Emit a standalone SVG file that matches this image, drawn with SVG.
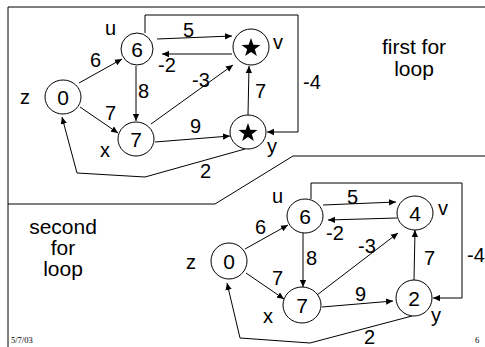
<svg xmlns="http://www.w3.org/2000/svg" width="485" height="347" viewBox="0 0 485 347">
  <style>
    .node { fill: #fff; stroke: #000; stroke-width: 1; }
    .edge { fill: none; stroke: #000; stroke-width: 1; marker-end: url(#arrow); }
    .frame { fill: none; stroke: #000; stroke-width: 1; }
    .lbl { font-family: "Liberation Sans", Arial, sans-serif; font-size: 20px; fill: #000; }
    .val { font-family: "Liberation Sans", Arial, sans-serif; font-size: 21px; fill: #000; text-anchor: middle; }
    .title { font-family: "Liberation Sans", Arial, sans-serif; font-size: 21px; fill: #000; text-anchor: middle; }
    .foot { font-family: "Liberation Serif", "Times New Roman", serif; font-size: 8.5px; fill: #000; }
  </style>
  <defs>
    <marker id="arrow" viewBox="0 0 10 10" refX="10" refY="5" markerWidth="7" markerHeight="7" markerUnits="userSpaceOnUse" orient="auto">
      <path d="M0,0.5 L10,5 L0,9.5 z" fill="#000"/>
    </marker>
    <polygon id="star" points="0,-10 2.35,-3.24 9.51,-3.09 3.8,1.24 5.88,8.09 0,4 -5.88,8.09 -3.8,1.24 -9.51,-3.09 -2.35,-3.24" fill="#000"/>
  </defs>

  <rect width="485" height="347" fill="#fff"/>

  <!-- slide frame and divider between the two panels -->
  <g id="frame">
    <polyline class="frame" points="485,7 8,7 8,347"/>
    <polyline class="frame" points="8,204 215,204 293,156 485,156"/>
  </g>

  <!-- panel titles -->
  <g id="titles">
    <text class="title" x="414" y="54">first for</text>
    <text class="title" x="414" y="76">loop</text>
    <text class="title" x="63" y="234">second</text>
    <text class="title" x="63" y="255">for</text>
    <text class="title" x="63" y="276">loop</text>
  </g>

  <!-- ===== graph after the first pass ===== -->
  <g id="graph1">
    <g id="edges1">
      <line class="edge" x1="79" y1="83" x2="122" y2="59"/>
      <line class="edge" x1="80" y1="107" x2="118" y2="133"/>
      <line class="edge" x1="136" y1="66" x2="136" y2="121"/>
      <line class="edge" x1="157" y1="39" x2="232" y2="36"/>
      <line class="edge" x1="232" y1="54" x2="162" y2="54"/>
      <line class="edge" x1="151" y1="124" x2="233" y2="65"/>
      <line class="edge" x1="155" y1="142" x2="230" y2="136"/>
      <line class="edge" x1="248" y1="115" x2="249" y2="66"/>
      <polyline class="edge" points="145,33 145,15 298,15 298,132 267,132"/>
      <polyline class="edge" points="245,149 145,177 77,173 62,117"/>
      <text class="lbl" x="90" y="67">6</text>
      <text class="lbl" x="183" y="37">5</text>
      <text class="lbl" x="158" y="72">-2</text>
      <text class="lbl" x="192" y="87">-3</text>
      <text class="lbl" x="138" y="98">8</text>
      <text class="lbl" x="105" y="120">7</text>
      <text class="lbl" x="190" y="133">9</text>
      <text class="lbl" x="255" y="98">7</text>
      <text class="lbl" x="303" y="89">-4</text>
      <text class="lbl" x="200" y="178">2</text>
    </g>
    <g id="n1-z">
      <ellipse class="node" cx="63" cy="97" rx="18" ry="17"/>
      <text class="val" x="63" y="105">0</text>
      <text class="lbl" x="20" y="104">z</text>
    </g>
    <g id="n1-u">
      <ellipse class="node" cx="137" cy="49" rx="16" ry="16"/>
      <text class="val" x="137" y="57">6</text>
      <text class="lbl" x="105" y="35">u</text>
    </g>
    <g id="n1-v">
      <ellipse class="node" cx="251" cy="47" rx="18" ry="18"/>
      <use href="#star" x="251" y="48"/>
      <text class="lbl" x="273" y="49">v</text>
    </g>
    <g id="n1-x">
      <ellipse class="node" cx="136" cy="139" rx="18" ry="17"/>
      <text class="val" x="136" y="147">7</text>
      <text class="lbl" x="100" y="157">x</text>
    </g>
    <g id="n1-y">
      <ellipse class="node" cx="248" cy="132" rx="18" ry="17"/>
      <use href="#star" x="248" y="133"/>
      <text class="lbl" x="267" y="153">y</text>
    </g>
  </g>

  <!-- ===== graph after the second pass ===== -->
  <g id="graph2" transform="translate(166,166)">
    <g id="edges2">
      <line class="edge" x1="79" y1="83" x2="122" y2="59"/>
      <line class="edge" x1="80" y1="107" x2="118" y2="133"/>
      <line class="edge" x1="137" y1="67" x2="137" y2="121"/>
      <line class="edge" x1="157" y1="39" x2="230" y2="36"/>
      <line class="edge" x1="231" y1="52" x2="162" y2="54"/>
      <line class="edge" x1="151" y1="129" x2="232" y2="67"/>
      <line class="edge" x1="156" y1="141" x2="227" y2="135"/>
      <line class="edge" x1="248" y1="114" x2="249" y2="64"/>
      <polyline class="edge" points="145,33 145,17 296,17 296,132 267,132"/>
      <polyline class="edge" points="246,150 144,177 74,172 61,117"/>
      <text class="lbl" x="89" y="68">6</text>
      <text class="lbl" x="181" y="38">5</text>
      <text class="lbl" x="160" y="74">-2</text>
      <text class="lbl" x="192" y="87">-3</text>
      <text class="lbl" x="140" y="99">8</text>
      <text class="lbl" x="106" y="119">7</text>
      <text class="lbl" x="189" y="135">9</text>
      <text class="lbl" x="258" y="99">7</text>
      <text class="lbl" x="301" y="96">-4</text>
      <text class="lbl" x="198" y="178">2</text>
    </g>
    <g id="n2-z">
      <ellipse class="node" cx="63" cy="95" rx="18" ry="18"/>
      <text class="val" x="63" y="103">0</text>
      <text class="lbl" x="20" y="103">z</text>
    </g>
    <g id="n2-u">
      <ellipse class="node" cx="139" cy="50" rx="18" ry="17"/>
      <text class="val" x="139" y="58">6</text>
      <text class="lbl" x="106" y="37">u</text>
    </g>
    <g id="n2-v">
      <ellipse class="node" cx="249" cy="47" rx="18" ry="17"/>
      <text class="val" x="249" y="55">4</text>
      <text class="lbl" x="272" y="49">v</text>
    </g>
    <g id="n2-x">
      <ellipse class="node" cx="136" cy="139" rx="19" ry="18"/>
      <text class="val" x="136" y="147">7</text>
      <text class="lbl" x="97" y="157">x</text>
    </g>
    <g id="n2-y">
      <ellipse class="node" cx="248" cy="132" rx="18" ry="18"/>
      <text class="val" x="248" y="140">2</text>
      <text class="lbl" x="265" y="156">y</text>
    </g>
  </g>

  <!-- footer -->
  <g id="footer">
    <text class="foot" x="11" y="343">5/7/03</text>
    <text class="foot" x="475" y="343">6</text>
  </g>
</svg>
